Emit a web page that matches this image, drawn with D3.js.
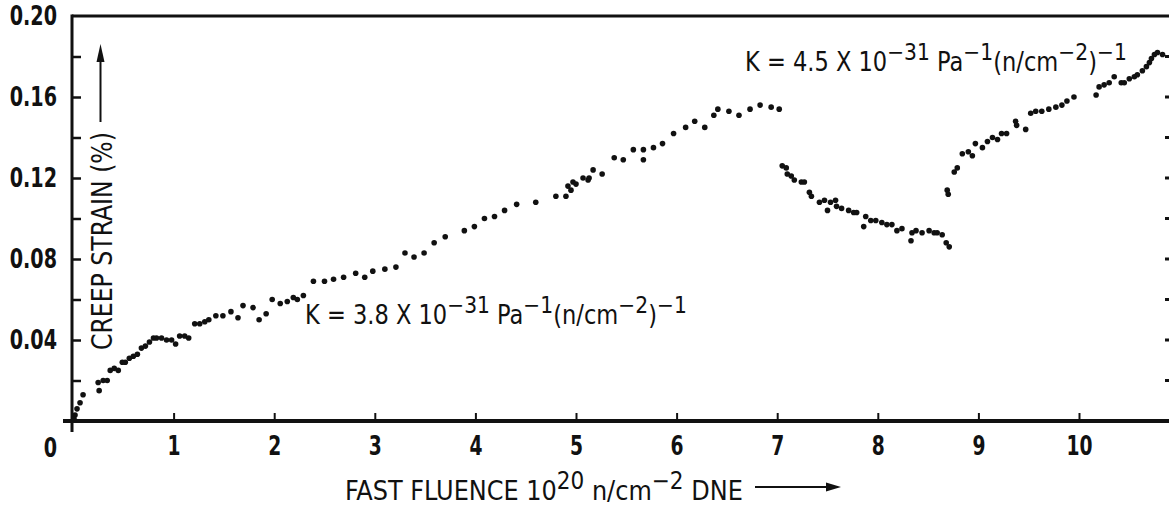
<!DOCTYPE html>
<html>
  <head>
    <meta charset="utf-8">
    <title>Creep strain vs fast fluence</title>
    <script src="https://d3js.org/d3.v7.min.js"></script>
    <style>
      body { margin: 0; background: #fff; }
      svg { display: block; }
      text { font-family: "Liberation Sans Narrow", "DejaVu Sans Condensed", "Roboto Condensed", sans-serif; fill: #111; }
    </style>
  </head>
  <body>
    <div id="chart"></div>
    <script>
      // fluence (10^20 n/cm^2) and creep strain (%)
      const firstLoad = [
        [0.01, 0.001], [0.02, 0.003], [0.04, 0.006], [0.07, 0.009], [0.10, 0.013],
        [0.25, 0.019], [0.26, 0.015], [0.30, 0.020], [0.34, 0.020], [0.37, 0.025],
        [0.41, 0.026], [0.45, 0.025], [0.49, 0.029], [0.52, 0.029], [0.56, 0.031],
        [0.60, 0.032], [0.64, 0.033], [0.68, 0.036], [0.72, 0.037], [0.76, 0.039],
        [0.80, 0.041], [0.83, 0.041], [0.88, 0.041], [0.93, 0.040], [0.98, 0.040],
        [1.02, 0.038], [1.06, 0.042], [1.11, 0.042], [1.15, 0.041], [1.21, 0.048],
        [1.26, 0.048], [1.31, 0.049], [1.35, 0.050], [1.42, 0.052], [1.49, 0.052],
        [1.57, 0.054], [1.64, 0.051], [1.69, 0.057], [1.79, 0.056], [1.85, 0.050],
        [1.92, 0.053], [1.98, 0.060], [2.06, 0.058], [2.13, 0.059], [2.19, 0.061],
        [2.23, 0.060], [2.29, 0.062], [2.39, 0.069], [2.50, 0.069], [2.59, 0.070],
        [2.69, 0.071], [2.81, 0.073], [2.90, 0.071], [2.98, 0.074], [3.10, 0.075],
        [3.21, 0.076], [3.30, 0.083], [3.39, 0.081], [3.49, 0.083], [3.59, 0.088],
        [3.70, 0.091], [3.89, 0.094], [3.99, 0.096], [4.09, 0.100], [4.19, 0.101],
        [4.29, 0.104], [4.41, 0.107], [4.60, 0.108], [4.80, 0.111], [4.90, 0.111],
        [4.92, 0.116], [4.95, 0.114], [4.97, 0.118], [5.00, 0.117], [5.07, 0.120],
        [5.12, 0.119], [5.13, 0.120], [5.17, 0.124], [5.26, 0.122], [5.38, 0.130],
        [5.47, 0.129], [5.57, 0.134], [5.67, 0.134], [5.67, 0.129], [5.77, 0.135],
        [5.86, 0.137], [5.97, 0.142], [6.09, 0.145], [6.18, 0.148], [6.28, 0.145],
        [6.37, 0.151], [6.41, 0.154], [6.52, 0.153], [6.62, 0.151], [6.73, 0.154],
        [6.83, 0.156], [6.94, 0.155], [7.02, 0.154]
      ];
      const recovery = [
        [7.05, 0.126], [7.09, 0.125], [7.10, 0.122], [7.14, 0.121], [7.17, 0.119],
        [7.24, 0.118], [7.27, 0.118], [7.32, 0.113], [7.34, 0.111], [7.42, 0.108],
        [7.47, 0.109], [7.50, 0.104], [7.53, 0.108], [7.58, 0.109], [7.59, 0.106],
        [7.64, 0.105], [7.71, 0.104], [7.76, 0.103], [7.79, 0.103], [7.86, 0.096],
        [7.88, 0.101], [7.93, 0.099], [7.98, 0.099], [8.04, 0.098], [8.09, 0.097],
        [8.14, 0.097], [8.19, 0.094], [8.24, 0.095], [8.33, 0.089], [8.34, 0.093],
        [8.38, 0.094], [8.44, 0.093], [8.51, 0.094], [8.56, 0.093], [8.59, 0.093],
        [8.64, 0.092], [8.68, 0.088], [8.71, 0.086]
      ];
      const secondLoad = [
        [8.69, 0.114], [8.70, 0.112], [8.76, 0.123], [8.79, 0.125], [8.84, 0.132],
        [8.90, 0.133], [8.94, 0.131], [8.97, 0.137], [9.04, 0.135], [9.09, 0.138],
        [9.14, 0.140], [9.19, 0.139], [9.23, 0.142], [9.28, 0.142], [9.37, 0.148],
        [9.38, 0.146], [9.47, 0.144], [9.52, 0.152], [9.57, 0.153], [9.63, 0.153],
        [9.70, 0.154], [9.77, 0.155], [9.83, 0.156], [9.88, 0.158], [9.95, 0.160],
        [10.17, 0.161], [10.20, 0.165], [10.25, 0.166], [10.30, 0.167], [10.35, 0.170],
        [10.42, 0.167], [10.45, 0.167], [10.50, 0.169], [10.55, 0.170], [10.58, 0.171],
        [10.63, 0.173], [10.67, 0.175], [10.70, 0.177], [10.72, 0.179], [10.75, 0.181],
        [10.78, 0.182], [10.83, 0.181]
      ];
      const xTicks = [1, 2, 3, 4, 5, 6, 7, 8, 9, 10];
      const yTicks = [0.02, 0.04, 0.06, 0.08, 0.10, 0.12, 0.14, 0.16, 0.18];
      const yLabels = [0.04, 0.08, 0.12, 0.16, 0.20];
      // text pieces, true = raised (superscript)
      const xTitle = [["FAST FLUENCE 10"], ["20", true], [" n/cm"], ["\u22122", true], [" DNE"]];
      const yTitle = "CREEP STRAIN (%)";
      const kFirst = [["K = 3.8 X 10"], ["\u221231", true], [" Pa"], ["\u22121", true], ["(n/cm"], ["\u22122", true], [")"], ["\u22121", true]];
      const kSecond = [["K = 4.5 X 10"], ["\u221231", true], [" Pa"], ["\u22121", true], ["(n/cm"], ["\u22122", true], [")"], ["\u22121", true]];

      const width = 1169, height = 508;
      const svg = d3.select("#chart").append("svg")
        .attr("width", width)
        .attr("height", height);

      const x = d3.scaleLinear().domain([0, 10.9]).range([73, 73 + 10.9 * 100.6]);
      const y = d3.scaleLinear().domain([0, 0.2]).range([421, 16]);

      // frame lines
      svg.append("line").attr("x1", 72).attr("x2", width).attr("y1", y(0.2)).attr("y2", y(0.2))
        .attr("stroke", "#111").attr("stroke-width", 3);
      svg.append("line").attr("x1", 72).attr("x2", 72).attr("y1", y(0.2) - 1.5).attr("y2", 432)
        .attr("stroke", "#111").attr("stroke-width", 3);
      svg.append("line").attr("x1", 63).attr("x2", width).attr("y1", y(0)).attr("y2", y(0))
        .attr("stroke", "#111").attr("stroke-width", 4);

      // axes, ticks pointing inward
      const xAxis = svg.append("g")
        .attr("transform", `translate(0,${y(0)})`)
        .call(d3.axisBottom(x).tickValues(xTicks).tickSize(-8).tickPadding(16).tickFormat(d3.format("d")));
      xAxis.select(".domain").remove();
      xAxis.selectAll(".tick line").attr("stroke", "#111").attr("stroke-width", 2);
      xAxis.selectAll(".tick text")
        .attr("font-size", 26)
        .attr("font-weight", "bold")
        .attr("fill", "#111")
        .attr("transform", "scale(0.8,1)");

      const yAxis = svg.append("g")
        .attr("transform", "translate(72,0)")
        .call(d3.axisLeft(y).tickValues(yTicks).tickSize(-9).tickFormat(""));
      yAxis.select(".domain").remove();
      yAxis.selectAll(".tick line").attr("stroke", "#111").attr("stroke-width", 2.5);

      // right-hand ticks that peek in at the cut edge
      svg.append("g").selectAll("line")
        .data(yTicks)
        .join("line")
          .attr("x1", width - 4).attr("x2", width)
          .attr("y1", d => y(d)).attr("y2", d => y(d))
          .attr("stroke", "#111").attr("stroke-width", 3);

      const squeeze = "translate(57,0) scale(0.82,1) translate(-57,0)";
      svg.append("g").selectAll("text")
        .data(yLabels)
        .join("text")
          .attr("x", 57)
          .attr("y", d => y(d))
          .attr("dy", "0.36em")
          .attr("text-anchor", "end")
          .attr("font-size", 26)
          .attr("font-weight", "bold")
          .attr("transform", squeeze)
          .text(d => d3.format(".2f")(d));
      svg.append("text")
        .attr("x", 57).attr("y", 457)
        .attr("text-anchor", "end")
        .attr("font-size", 26)
        .attr("font-weight", "bold")
        .attr("transform", squeeze)
        .text("0");

      // writes text with raised pieces, then squeezes it to the wanted width
      function richText(parts, x0, y0, size, fitWidth, parent) {
        const t = (parent || svg).append("text")
          .attr("x", x0).attr("y", y0)
          .attr("font-size", size);
        let raised = false;
        parts.forEach(function(p) {
          const up = !!p[1];
          const s = t.append("tspan").text(p[0]);
          if (up && !raised) s.attr("dy", -11);
          if (!up && raised) s.attr("dy", 11);
          if (up) s.attr("font-size", size * 0.9);
          raised = up;
        });
        const w = t.node().getComputedTextLength();
        t.attr("transform", `translate(${x0},0) scale(${fitWidth / w},1) translate(${-x0},0)`);
        return t;
      }

      richText(xTitle, 345, 500, 27, 398);
      richText(kFirst, 305, 324, 26, 382);
      richText(kSecond, 745, 71, 26, 382);

      // x title arrow
      svg.append("line").attr("x1", 755).attr("x2", 830).attr("y1", 487).attr("y2", 487)
        .attr("stroke", "#111").attr("stroke-width", 2);
      svg.append("path").attr("d", "M841,487 L826,482.5 L826,491.5 Z").attr("fill", "#111");

      // y title, rotated, with its arrow
      const yt = svg.append("g").attr("transform", "translate(112,350) rotate(-90)");
      richText([[yTitle]], 0, 0, 28, 218, yt);
      svg.append("line").attr("x1", 100.5).attr("x2", 100.5).attr("y1", 122).attr("y2", 58)
        .attr("stroke", "#111").attr("stroke-width", 2);
      svg.append("path").attr("d", "M100.5,44 L96.5,62 L104.5,62 Z").attr("fill", "#111");

      // measured points
      const points = svg.append("g");
      [firstLoad, recovery, secondLoad].forEach(function(series) {
        points.selectAll(null)
          .data(series)
          .join("circle")
            .attr("cx", d => x(d[0]))
            .attr("cy", d => y(d[1]))
            .attr("r", 2.8)
            .attr("fill", "#111");
      });
    </script>
  </body>
</html>
